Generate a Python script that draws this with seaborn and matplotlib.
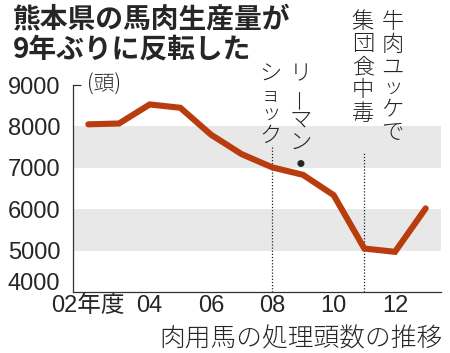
import numpy as np
import pandas as pd
import matplotlib
matplotlib.use("Agg")
import matplotlib.pyplot as plt
import matplotlib.transforms as mtransforms
import seaborn as sns

# 肉用馬の処理頭数（頭）
years = [2002, 2003, 2004, 2005, 2006, 2007, 2008, 2009, 2010, 2011, 2012, 2013]
heads = [8050, 8070, 8530, 8450, 7800, 7330, 7010, 6830, 6340, 5050, 4970, 6020]

ytick_vals = [4000, 5000, 6000, 7000, 8000, 9000]
xtick_vals = [2002, 2004, 2006, 2008, 2010, 2012]
xtick_labels = ["02年度", "04", "06", "08", "10", "12"]
bands = [(5000, 6000), (7000, 8000)]

event_years = [2008, 2011]
event_line_top = [7550, 7360]
event_cols = [["ショック", "リーマン・"], ["集団食中毒", "牛肉ユッケで"]]

title = "熊本県の馬肉生産量が\n9年ぶりに反転した"
xlabel = "肉用馬の処理頭数の推移"

sns.set_theme(style="white")
plt.rcParams["font.family"] = ["Noto Sans CJK JP", "DejaVu Sans"]
num_font = ["Liberation Sans", "Noto Sans CJK JP"]
line_color = "#b83c0e"

df = pd.DataFrame({"year": years, "heads": heads})

fig = plt.figure(figsize=(4.5, 3.53), dpi=100)
ax = fig.add_axes([73 / 450, 1 - 292 / 353, (441 - 73) / 450, (292 - 85) / 353])

for lo, hi in bands:
    ax.axhspan(lo, hi, color="#e8e8e8", lw=0, zorder=0)

for yr, top in zip(event_years, event_line_top):
    ax.vlines(yr, 4000, top, colors="#222222", linestyles=(0, (1, 1.5)), lw=0.9, zorder=1)

sns.lineplot(data=df, x="year", y="heads", ax=ax, color=line_color, lw=4.4,
             solid_joinstyle="miter", zorder=3)

ax.set_xlim(2001.5, 2013.5)
ax.set_ylim(4000, 9000)
for s in ["top", "right"]:
    ax.spines[s].set_visible(False)
for s in ["left", "bottom"]:
    ax.spines[s].set_color("#333333")
    ax.spines[s].set_linewidth(0.9)

ax.set_xticks(years)
ax.set_xticklabels(["" if y not in xtick_vals else xtick_labels[xtick_vals.index(y)] for y in years],
                   fontsize=17, family=num_font)
ax.tick_params(axis="x", direction="in", length=4, width=0.8, color="#555555", pad=2)
ax.set_yticks(ytick_vals)
ax.set_yticklabels([str(v) for v in ytick_vals], fontsize=17, family=num_font)
ax.tick_params(axis="y", length=0, pad=9)
# 4000 label sits a bit higher than its gridline
lab = ax.yaxis.get_major_ticks()[0].label1
lab.set_transform(lab.get_transform() + mtransforms.ScaledTranslation(0, 10 / 100, fig.dpi_scale_trans))
ax.set_xlabel("")
ax.set_ylabel("")

# unit marker at the top of the y axis
ax.hlines(9000, 2001.5, 2001.75, colors="#333333", lw=0.9, clip_on=False)
ax.text(2001.95, 9000, "(頭)", fontsize=15, va="center", ha="left", weight="light")

fig.text(13 / 450, 1 - 6 / 353, title, fontsize=20, weight="bold", va="top", ha="left",
         linespacing=1.05)
fig.text(443 / 450, 1 - 339 / 353, xlabel, fontsize=18.5, va="center", ha="right", weight="light")

# vertical annotations
small = set("ッョャュァィゥェォ")
trans = mtransforms.blended_transform_factory(ax.transData, fig.transFigure)
col_offsets = [-0.05, 0.92]
col_tops = [[63, 63], [10, 10]]
for yr, cols, tops in zip(event_years, event_cols, col_tops):
    for ci, (txt, top) in enumerate(zip(cols, tops)):
        ypix = top
        for ch in txt:
            step = 19 if ch in small else 23
            rot = 90 if ch == "ー" else 0
            if ch == "・":
                size, wt = 20, "bold"
            elif ch in small:
                size, wt = 14, "light"
            else:
                size, wt = 16, "light"
            ax.text(yr + col_offsets[ci], 1 - (ypix + step / 2) / 353, ch, transform=trans,
                    fontsize=size, ha="center", va="center", rotation=rot, weight=wt,
                    clip_on=False)
            ypix += step

fig.savefig("out.png", dpi=100)
